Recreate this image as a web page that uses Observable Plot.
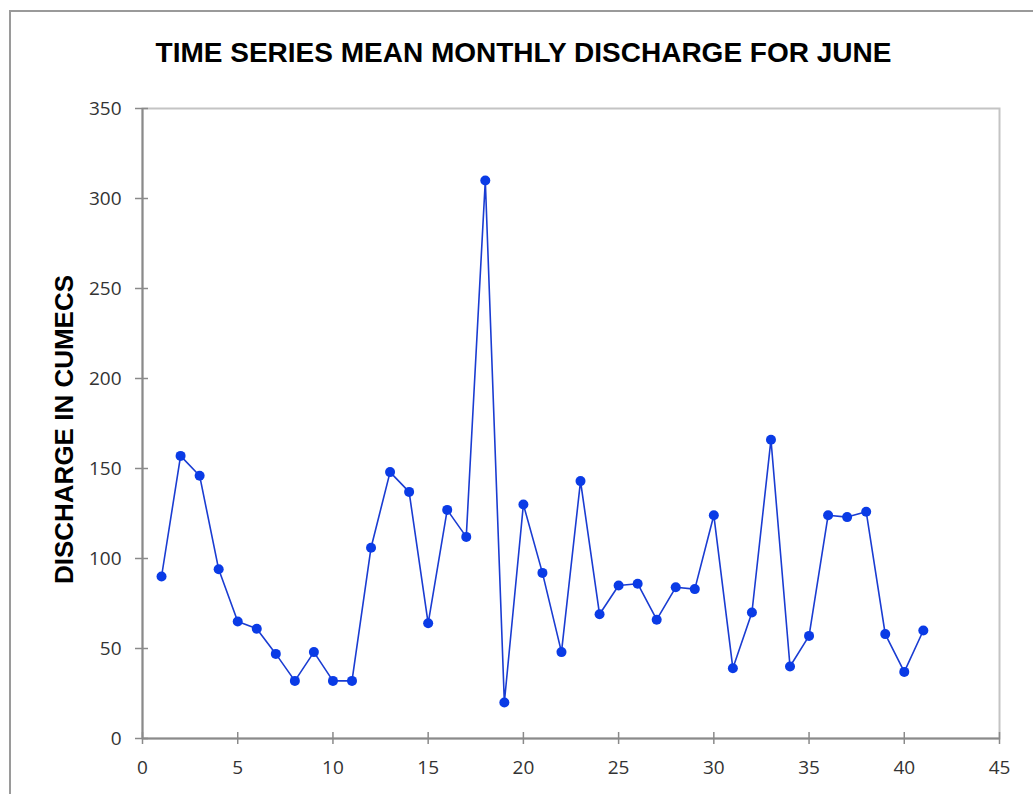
<!DOCTYPE html>
<html><head><meta charset="utf-8">
<script src="https://cdn.jsdelivr.net/npm/d3@7"></script>
<script src="https://cdn.jsdelivr.net/npm/@observablehq/plot@0.6"></script>
<style>
body{margin:0;background:#fff;}
#wrap{position:relative;width:1033px;height:794px;overflow:hidden;background:#fff;}
#frame{position:absolute;left:9px;top:10px;width:1030px;height:810px;border:2px solid #9a9a9a;box-sizing:border-box;}
#title{position:absolute;left:0;top:39px;width:1047px;text-align:center;font:bold 28px "Liberation Sans";line-height:28px;color:#000;}
#chart{position:absolute;left:0;top:0;}
#chart svg{overflow:visible;}
#chart g[aria-label="y-axis label"] text{font:bold 26px "Liberation Sans";fill:#000;}
</style></head><body>
<div id="wrap"><div id="frame"></div><div id="title"></div><div id="chart"></div></div>
<script>
const title = "TIME SERIES MEAN MONTHLY DISCHARGE FOR JUNE";
const yLabel = "DISCHARGE IN CUMECS";
const xIndex = [1,2,3,4,5,6,7,8,9,10,11,12,13,14,15,16,17,18,19,20,21,22,23,24,25,26,27,28,29,30,31,32,33,34,35,36,37,38,39,40,41];
const discharge = [90,157,146,94,65,61,47,32,48,32,32,106,148,137,64,127,112,310,20,130,92,48,143,69,85,86,66,84,83,124,39,70,166,40,57,124,123,126,58,37,60];
const xTicks = [0,5,10,15,20,25,30,35,40,45];
const yTicks = [0,50,100,150,200,250,300,350];

const data = xIndex.map((x, i) => ({x, y: discharge[i]}));
document.getElementById("title").textContent = title;

const lineColor = "#1a3cd2";
const dotColor = "#0a3be6";
const axisColor = "#8a8a8a";

const chart = Plot.plot({
  width: 1033,
  height: 794,
  marginLeft: 142,
  marginTop: 108,
  marginRight: 34,
  marginBottom: 56,
  style: {fontFamily: "Open Sans", fontSize: "19px", color: "#333", background: "transparent"},
  x: {domain: [0, 45]},
  y: {domain: [0, 350]},
  marks: [
    Plot.frame({stroke: "#c4c4c4", strokeWidth: 2}),
    Plot.axisX({ticks: xTicks, tickSize: 6, tickPadding: 16, tickFormat: d => String(d), label: null, stroke: axisColor, strokeWidth: 1.5, fontSize: 19}),
    Plot.axisX({ticks: xTicks, tickSize: -6, text: null, label: null, stroke: axisColor, strokeWidth: 1.5}),
    Plot.axisY({ticks: yTicks, tickSize: 7, tickPadding: 14, tickFormat: d => String(d), label: yLabel, labelAnchor: "center", labelArrow: "none", labelOffset: 88, stroke: axisColor, strokeWidth: 1.5, fontSize: 19}),
    Plot.axisY({ticks: yTicks, tickSize: -6, text: null, label: null, stroke: axisColor, strokeWidth: 1.5}),
    Plot.ruleX([0], {stroke: axisColor, strokeWidth: 2}),
    Plot.ruleY([0], {stroke: axisColor, strokeWidth: 2}),
    Plot.line(data, {x: "x", y: "y", stroke: lineColor, strokeWidth: 1.6}),
    Plot.dot(data, {x: "x", y: "y", r: 5, fill: dotColor, stroke: "none"})
  ]
});
const lab = chart.querySelector('g[aria-label="y-axis label"]');
if (lab) lab.setAttribute("transform", ((lab.getAttribute("transform") || "") + " translate(0,6)").trim());
document.getElementById("chart").appendChild(chart);
</script>
</body></html>
